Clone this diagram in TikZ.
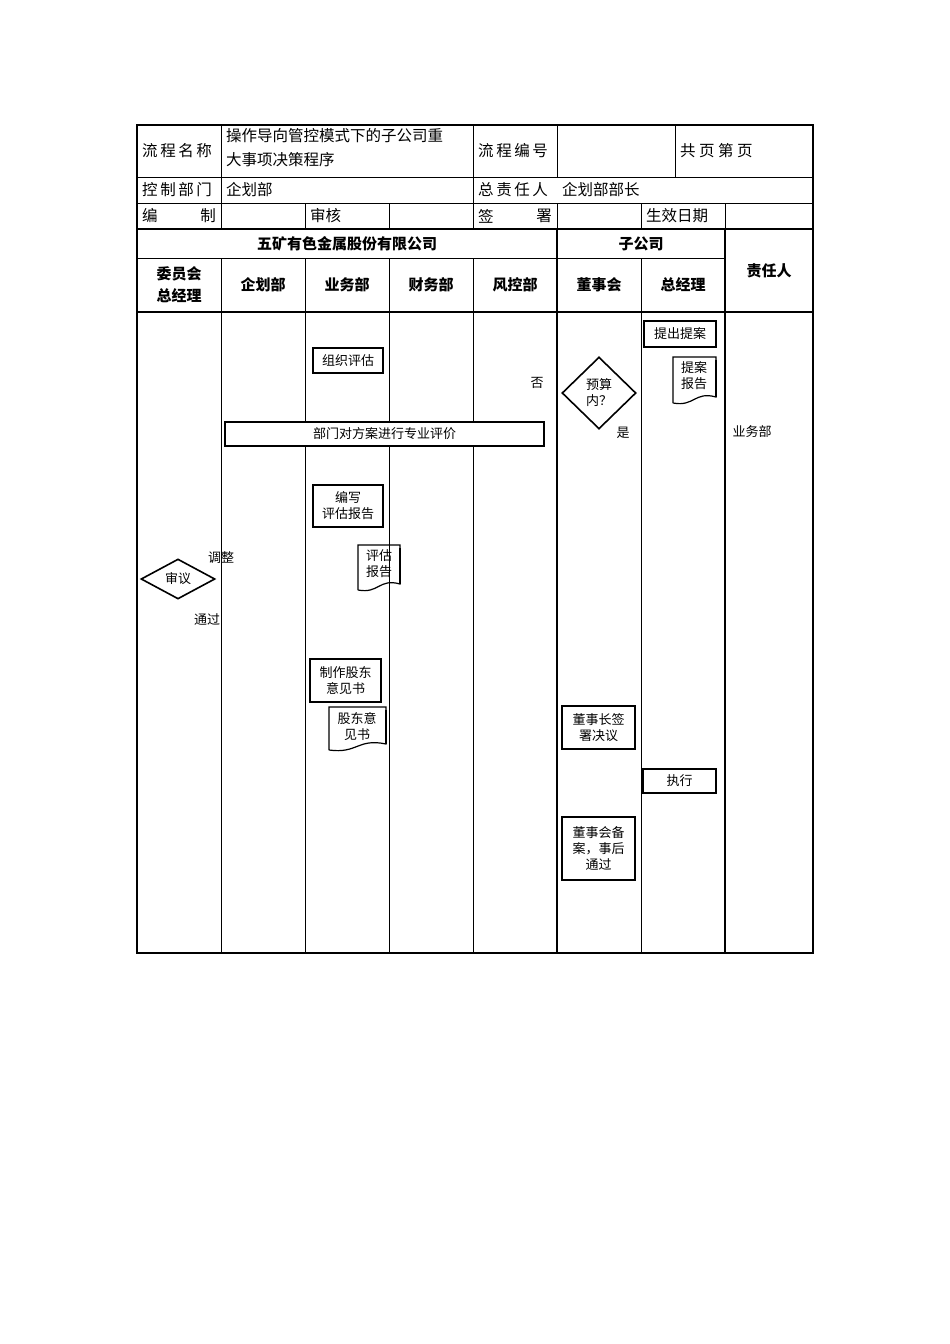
\documentclass[tikz,border=0pt]{standalone}
\usepackage{fontspec}
\setmainfont{Noto Sans CJK SC}
\usetikzlibrary{shapes.geometric}
\begin{document}
\begin{tikzpicture}[x=1pt,y=-1pt,
  t/.style={font=\fontsize{15.5}{17}\selectfont, inner sep=0pt},
  h/.style={font=\fontsize{15}{22}\selectfont\bfseries, inner sep=0pt, align=center},
  s/.style={font=\fontsize{13}{16}\selectfont, inner sep=0pt, align=center},
  bx/.style={draw, line width=1.6pt},
  thin/.style={line width=0.8pt}]
\useasboundingbox (0,0) rectangle (950,1344);
% grid
\draw[line width=2pt] (137,125) rectangle (813,953);
\draw[thin] (137,177)--(813,177) (137,203)--(813,203);
\draw[line width=1.6pt] (137,229)--(813,229) (137,312)--(813,312);
\draw[thin] (137,258)--(725,258);
\draw[thin] (221,125)--(221,203) (473,125)--(473,229) (557,125)--(557,177) (675,125)--(675,177)
  (557,203)--(557,229) (305,203)--(305,229) (389,203)--(389,229) (641,203)--(641,229) (725,203)--(725,229)
  (221,203)--(221,229);
\draw[line width=1.6pt] (725,229)--(725,953) (557,229)--(557,953);
\foreach \x in {221,305,389,473,641} \draw[thin] (\x,258)--(\x,953);
% header texts
\node[t,anchor=west] (a1) at (142,151) {流\,程\,名\,称};
\node[t,anchor=north west,align=left,font=\fontsize{15.5}{24}\selectfont] (a2) at (226,128) {操作导向管控模式下的子公司重\\大事项决策程序};
\node[t,anchor=west] (a3) at (478,151) {流\,程\,编\,号};
\node[t,anchor=west] (a4) at (680,151) {共\ 页\ 第\ 页};
\node[t,anchor=west] (b1) at (142,190) {控\,制\,部\,门};
\node[t,anchor=west] (b2) at (226,190) {企划部};
\node[t,anchor=west] (b3) at (478,190) {总\,责\,任\,人};
\node[t,anchor=west] (b4) at (562,190) {企划部部长};
\node[t,anchor=west] (c1) at (142,216) {编};
\node[t,anchor=east] (c1b) at (216,216) {制};
\node[t,anchor=west] (c2) at (310,216) {审核};
\node[t,anchor=west] (c3) at (478,216) {签};
\node[t,anchor=east] (c3b) at (552,216) {署};
\node[t,anchor=west] (c4) at (646,216) {生效日期};
\node[h] (d1) at (347,244) {五矿有色金属股份有限公司};
\node[h] (d2) at (641,244) {子公司};
\node[h] (d3) at (769,271) {责任人};
\node[h] (e1) at (179,285) {委员会\\总经理};
\node[h] (e2) at (263,285) {企划部};
\node[h] (e3) at (347,285) {业务部};
\node[h] (e4) at (431,285) {财务部};
\node[h] (e5) at (515,285) {风控部};
\node[h] (e6) at (599,285) {董事会};
\node[h] (e7) at (683,285) {总经理};
% flow shapes
\node[bx,s,minimum width=70,minimum height=25] (zz) at (348,360.5) {组织评估};
\node[bx,s,minimum width=319,minimum height=24,fill=white] (bm) at (384.5,434) {部门对方案进行专业评价};
\node[bx,s,minimum width=70,minimum height=42] (bx1) at (348,506) {编写\\评估报告};
\node[bx,s,minimum width=71,minimum height=43] (zz2) at (345.5,680.5) {制作股东\\意见书};
\node[bx,s,minimum width=73,minimum height=43] (ds) at (598.5,727.5) {董事长签\\署决议};
\node[bx,s,minimum width=73,minimum height=24] (zx) at (679.5,781) {执行};
\node[bx,s,minimum width=73,minimum height=63] (ba) at (598.5,848.5) {董事会备\\案，事后\\通过};
\node[bx,s,minimum width=72,minimum height=26] (tc) at (680,334) {提出提案};
\node[draw,line width=1.6pt,diamond,aspect=1.85,minimum width=74,minimum height=40,inner sep=0pt,s] (sy) at (178,579) {审议};
\node[draw,line width=1.6pt,diamond,minimum width=74,minimum height=72,inner sep=0pt,s] (ys) at (599,393) {预算\\内？};
% documents
\newcommand{\docshape}[5]{% name, x1,y1,x2,y2
 \draw[line width=1.2pt] (#2,#5)--(#2,#3)--(#4,#3)--(#4,#5-6) .. controls ({(#2+#4)/2},#5-12) and ({(#2+#4)/2},#5+4) .. (#2,#5);
 \draw[line width=2pt] (#4,#3+3)--(#4,#5-6);
}
\docshape{pg}{358}{545}{400}{590}
\node[s] (pgt) at (379,564) {评估\\报告};
\docshape{ta}{673}{357}{716}{403}
\node[s] (tat) at (694,376) {提案\\报告};
\docshape{gd}{329}{707}{386}{750}
\node[s] (gdt) at (357,726) {股东意\\见书};
% labels
\node[s] (l1) at (221,558) {调整};
\node[s] (l2) at (207,620) {通过};
\node[s] (l3) at (537,383) {否};
\node[s] (l4) at (623,433) {是};
\node[s] (l5) at (752,432) {业务部};
\end{tikzpicture}
\end{document}
